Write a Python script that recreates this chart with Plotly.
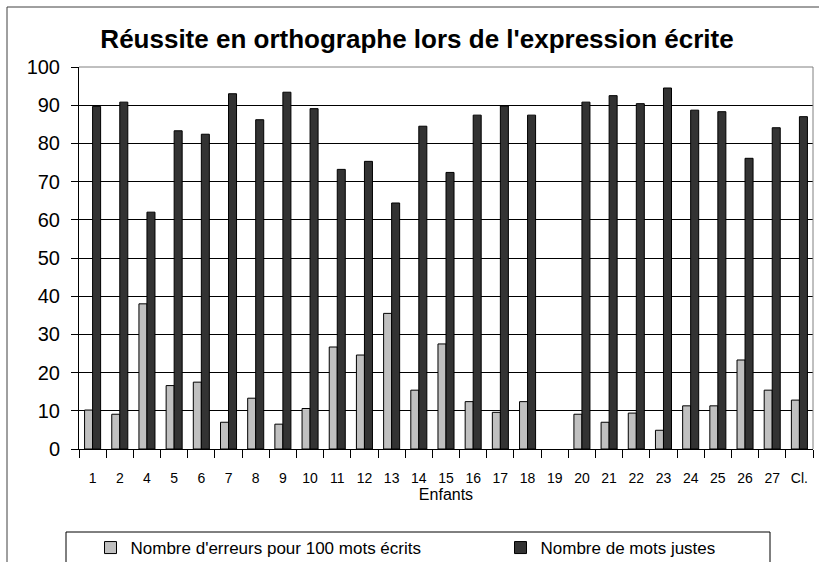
import plotly.graph_objects as go

categories = ["1", "2", "4", "5", "6", "7", "8", "9", "10", "11", "12", "13", "14", "15",
              "16", "17", "18", "19", "20", "21", "22", "23", "24", "25", "26", "27", "Cl."]
erreurs = [10.2, 9.1, 38.0, 16.6, 17.5, 7.0, 13.3, 6.5, 10.6, 26.7, 24.6, 35.5, 15.4, 27.5,
           12.4, 9.6, 12.4, None, 9.1, 7.0, 9.4, 4.9, 11.3, 11.3, 23.3, 15.4, 12.8]
justes = [89.7, 90.8, 62.0, 83.3, 82.4, 93.0, 86.2, 93.4, 89.1, 73.2, 75.3, 64.4, 84.5, 72.4,
          87.4, 89.8, 87.4, None, 90.8, 92.5, 90.4, 94.5, 88.7, 88.3, 76.1, 84.1, 87.0]
y_ticks = [0, 10, 20, 30, 40, 50, 60, 70, 80, 90, 100]

W, H = 819, 562
L, R, T, B = 79, 813, 67, 449
pw, ph = R - L, B - T


def px_x(v):
    return (v - L) / pw


def px_y(v):
    return (B - v) / ph


FONT = "Liberation Sans, Arial, sans-serif"

fig = go.Figure()
fig.add_trace(go.Bar(
    x=categories, y=erreurs, name="Nombre d'erreurs pour 100 mots écrits",
    marker=dict(color="#C0C0C0", line=dict(color="#000000", width=1)),
    legend="legend",
))
fig.add_trace(go.Bar(
    x=categories, y=justes, name="Nombre de mots justes",
    marker=dict(color="#333333", line=dict(color="#000000", width=1)),
    legend="legend2",
))

shapes = [
    # outer chart frame (cropped)
    dict(type="rect", xref="paper", yref="paper", x0=px_x(7), x1=px_x(900), y0=px_y(650), y1=px_y(7),
         line=dict(color="#404040", width=1), layer="below"),
    # plot area border top/right (gray)
    dict(type="line", xref="paper", yref="paper", x0=0, x1=1, y0=1, y1=1,
         line=dict(color="#808080", width=1), layer="above"),
    dict(type="line", xref="paper", yref="paper", x0=1, x1=1, y0=0, y1=1,
         line=dict(color="#808080", width=1), layer="above"),
    # legend box
    dict(type="rect", xref="paper", yref="paper", x0=px_x(66), x1=px_x(770), y0=px_y(650), y1=px_y(532),
         line=dict(color="#000000", width=1), layer="below"),
]

leg_common = dict(orientation="h", xanchor="left", yanchor="middle",
                  xref="container", yref="container",
                  font=dict(size=17, family=FONT), bgcolor="rgba(0,0,0,0)", borderwidth=0,
                  itemwidth=30)

fig.update_layout(
    width=W, height=H,
    margin=dict(l=L, r=W - R, t=T, b=H - B, pad=0),
    paper_bgcolor="white", plot_bgcolor="white",
    font=dict(family=FONT, color="#000000"),
    title=dict(text="<b>Réussite en orthographe lors de l'expression écrite</b>",
               x=417 / W, xanchor="center", y=1 - 39 / H, yanchor="middle",
               font=dict(size=26, family=FONT, color="#000000")),
    barmode="group", bargap=0.41, bargroupgap=0,
    showlegend=True,
    legend=dict(x=90.5 / W, y=1 - 548 / H, **leg_common),
    legend2=dict(x=500.5 / W, y=1 - 548 / H, **leg_common),
    shapes=shapes,
)

fig.update_xaxes(
    type="category", categoryorder="array", categoryarray=categories,
    showline=True, linecolor="#000000", linewidth=1,
    ticks="outside", tickson="boundaries", ticklen=8, tickcolor="#000000", tickwidth=1,
    tickfont=dict(size=14, family=FONT), tickangle=0, ticklabelstandoff=16,
    title=dict(text="Enfants", font=dict(size=16, family=FONT), standoff=2),
    showgrid=False, zeroline=False, automargin=False,
)
fig.update_yaxes(
    range=[0, 100], tickvals=y_ticks, ticktext=[str(v) for v in y_ticks],
    showline=True, linecolor="#000000", linewidth=1,
    ticks="outside", ticklen=7, tickcolor="#000000", tickwidth=1,
    tickfont=dict(size=20, family=FONT), ticklabelstandoff=7,
    showgrid=True, gridcolor="#000000", gridwidth=1, zeroline=False, automargin=False,
)

fig.write_html("out.html", config={"displayModeBar": False},
               post_script="document.body.style.margin='0';")
